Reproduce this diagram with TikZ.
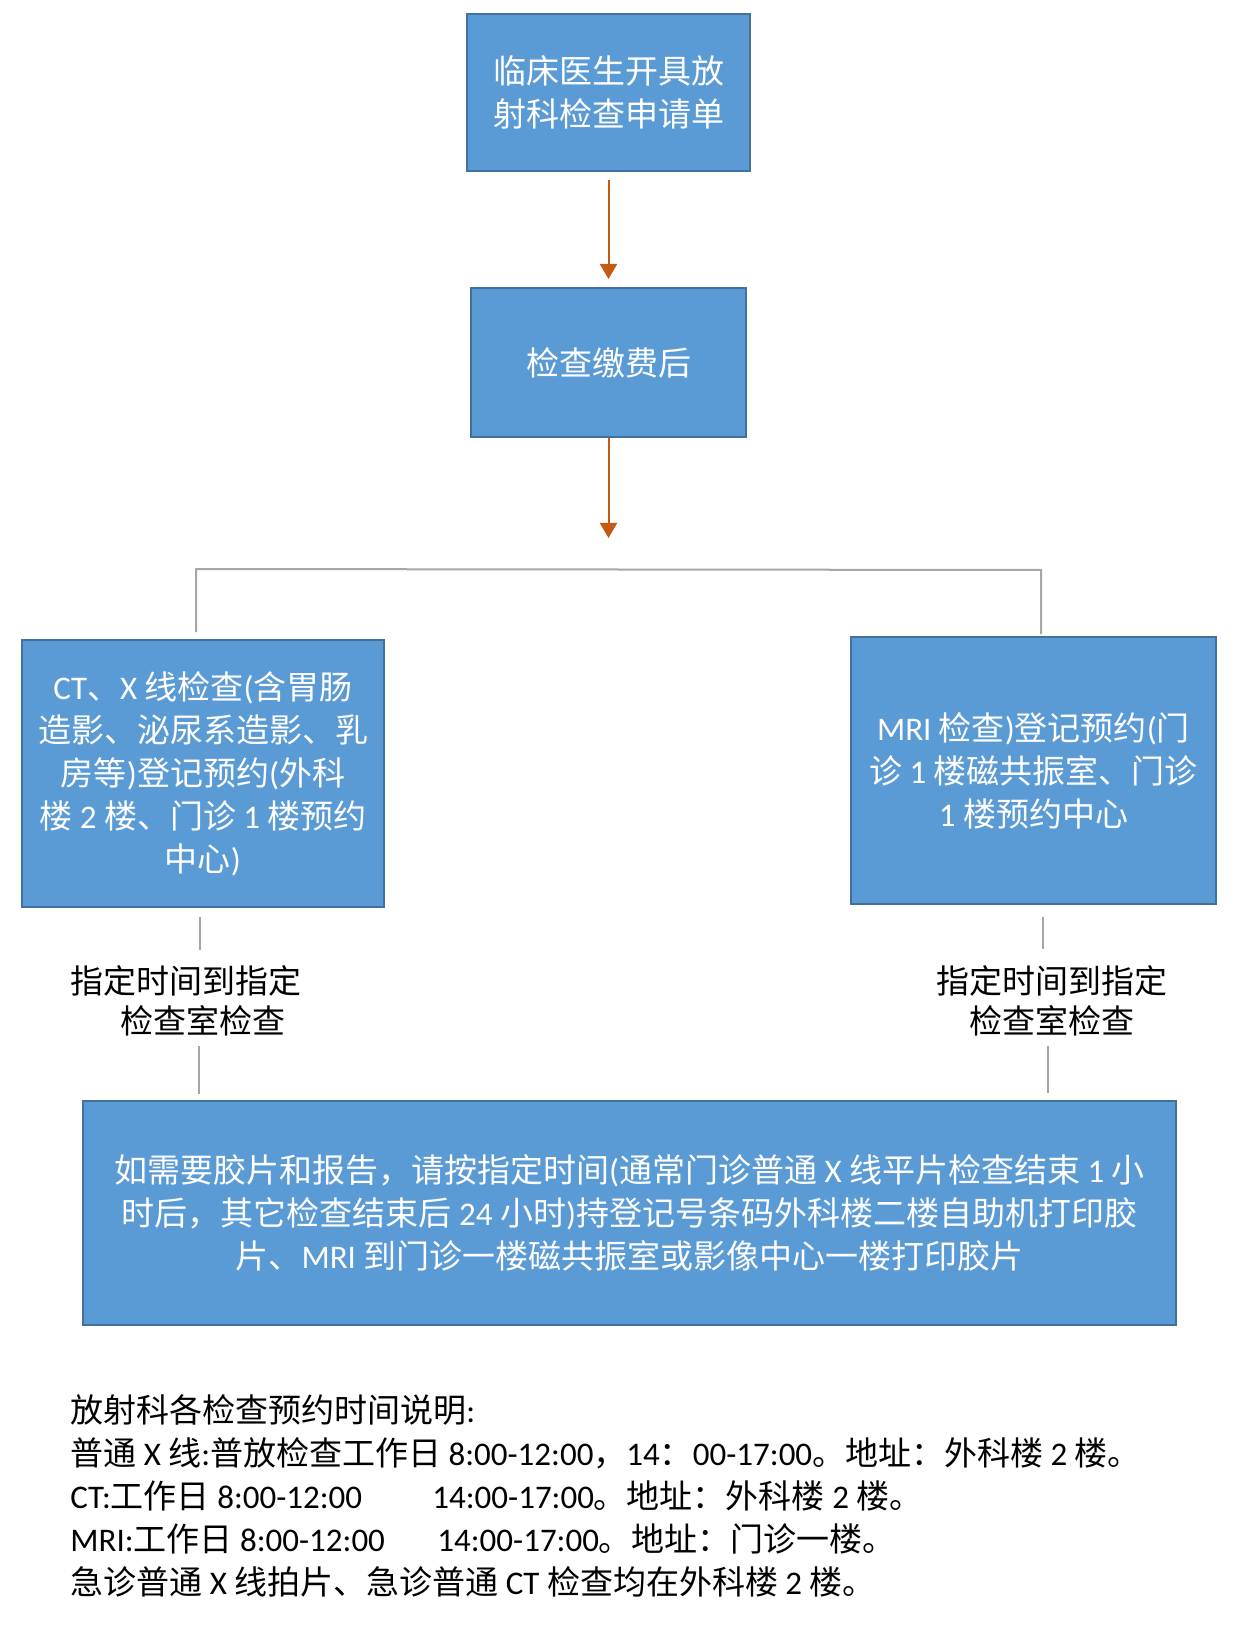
\documentclass[tikz,border=0pt]{standalone}
\usepackage{fontspec}
\setmainfont{Carlito}[Numbers=Lining]
\newfontfamily\latf{Carlito}[Numbers=Lining]
\newfontfamily\cjkf{Noto Sans CJK SC}
\usetikzlibrary{arrows.meta}
% automatic font switching between Latin (Carlito) and CJK (Noto Sans CJK SC)
\XeTeXinterchartokenstate=1
\newXeTeXintercharclass\mycjk
\newcount\mycc
\mycc="2E80
\loop
  \XeTeXcharclass\mycc=\mycjk
  \advance\mycc by 1
\ifnum\mycc<"A000 \repeat
\mycc="FF00
\loop
  \XeTeXcharclass\mycc=\mycjk
  \advance\mycc by 1
\ifnum\mycc<"FFF0 \repeat
\XeTeXinterchartoks 0 \mycjk = {\cjkf}
\XeTeXinterchartoks 4095 \mycjk = {\cjkf}
\XeTeXinterchartoks \mycjk 0 = {\latf}
\XeTeXinterchartoks 4095 0 = {\latf}
\definecolor{boxblue}{HTML}{5B9BD5}
\definecolor{boxedge}{HTML}{41719C}
\definecolor{arrowc}{HTML}{C55A11}
\definecolor{linegray}{HTML}{A6A6A6}
\newcommand\myfont{\fontsize{16.5}{21.5}\selectfont}
\newcommand\mylabfont{\fontsize{16.5}{20}\selectfont}
\begin{document}
\begin{tikzpicture}[x=0.5pt,y=-0.5pt,
  blbox/.style={draw=boxedge, line width=1pt, fill=boxblue, text=white,
    align=center, inner sep=0pt, font=\myfont},
  lab/.style={align=center, inner sep=0pt, text=black, font=\mylabfont},
  note/.style={anchor=base west, inner sep=0pt, text=black, font=\myfont},
  arr/.style={draw=arrowc, line width=1pt, -{Triangle[width=8.5pt,length=7.5pt]}},
  gl/.style={draw=linegray, line width=1pt}]
\useasboundingbox (0,0) rectangle (1235,1641);
\fill[white] (0,0) rectangle (1235,1641);

% boxes
\node[blbox, minimum width=141.5pt, minimum height=78.5pt] (top) at (608.5,92.5)
  {临床医生开具放\\射科检查申请单};
\node[blbox, minimum width=137.5pt, minimum height=74.5pt] (pay) at (608.5,362.5)
  {检查缴费后};
\node[blbox, minimum width=181pt, minimum height=133.5pt] (lbox) at (203,773.5)
  {CT、X 线检查(含胃肠\\造影、泌尿系造影、乳\\房等)登记预约(外科\\楼 2 楼、门诊 1 楼预约\\中心)};
\node[blbox, minimum width=182.5pt, minimum height=133.5pt] (rbox) at (1033.5,770.5)
  {MRI 检查)登记预约(门\\诊 1 楼磁共振室、门诊\\1 楼预约中心};
\node[blbox, minimum width=546.5pt, minimum height=112pt] (bbox) at (629.5,1213)
  {如需要胶片和报告，请按指定时间(通常门诊普通 X 线平片检查结束 1 小\\时后，其它检查结束后 24 小时)持登记号条码外科楼二楼自助机打印胶\\片、MRI 到门诊一楼磁共振室或影像中心一楼打印胶片};

% orange arrows
\draw[arr, shorten <=4pt, shorten >=4pt] (top.south) -- (pay.north);
\coordinate (a2end) at (608.5,538);
\draw[arr] (pay.south) -- (a2end);

% gray branch
\coordinate (hl) at (196,569);
\coordinate (hr) at (1041,570);
\draw[gl, shorten <=3.5pt, shorten >=1pt] (hl |- lbox.north) -- (hl) -- (hr) -- (hr |- rbox.north);

% labels
\node[lab] (llab) at (186,1001) {指定时间到指定\\\hspace*{1em}检查室检查};
\node[lab] (rlab) at (1052,1001) {指定时间到指定\\检查室检查};

% gray connectors below the boxes
\coordinate (lc1) at (200,917);
\coordinate (lc2) at (200,950);
\coordinate (lc3) at (199,1046);
\coordinate (lc4) at (199,1094);
\coordinate (rc1) at (1043,917);
\coordinate (rc2) at (1043,949);
\coordinate (rc3) at (1048,1046);
\coordinate (rc4) at (1048,1093);
\draw[gl] (lc1) -- (lc2);
\draw[gl] (lc3) -- (lc4);
\draw[gl] (rc1) -- (rc2);
\draw[gl] (rc3) -- (rc4);

% notes
\node[note] (n1) at (70,1422) {放射科各检查预约时间说明:};
\node[note] (n2) at (70,1465) {普通 X 线:普放检查工作日 8:00-12:00，14：00-17:00。地址：外科楼 2 楼。};
\node[note] (n3) at (70,1508) {CT:工作日 8:00-12:00};
\node[note] (n3b) at (432,1508) {14:00-17:00。地址：外科楼 2 楼。};
\node[note] (n4) at (70,1551) {MRI:工作日 8:00-12:00};
\node[note] (n4b) at (437,1551) {14:00-17:00。地址：门诊一楼。};
\node[note] (n5) at (70,1594) {急诊普通 X 线拍片、急诊普通 CT 检查均在外科楼 2 楼。};
\end{tikzpicture}
\end{document}
